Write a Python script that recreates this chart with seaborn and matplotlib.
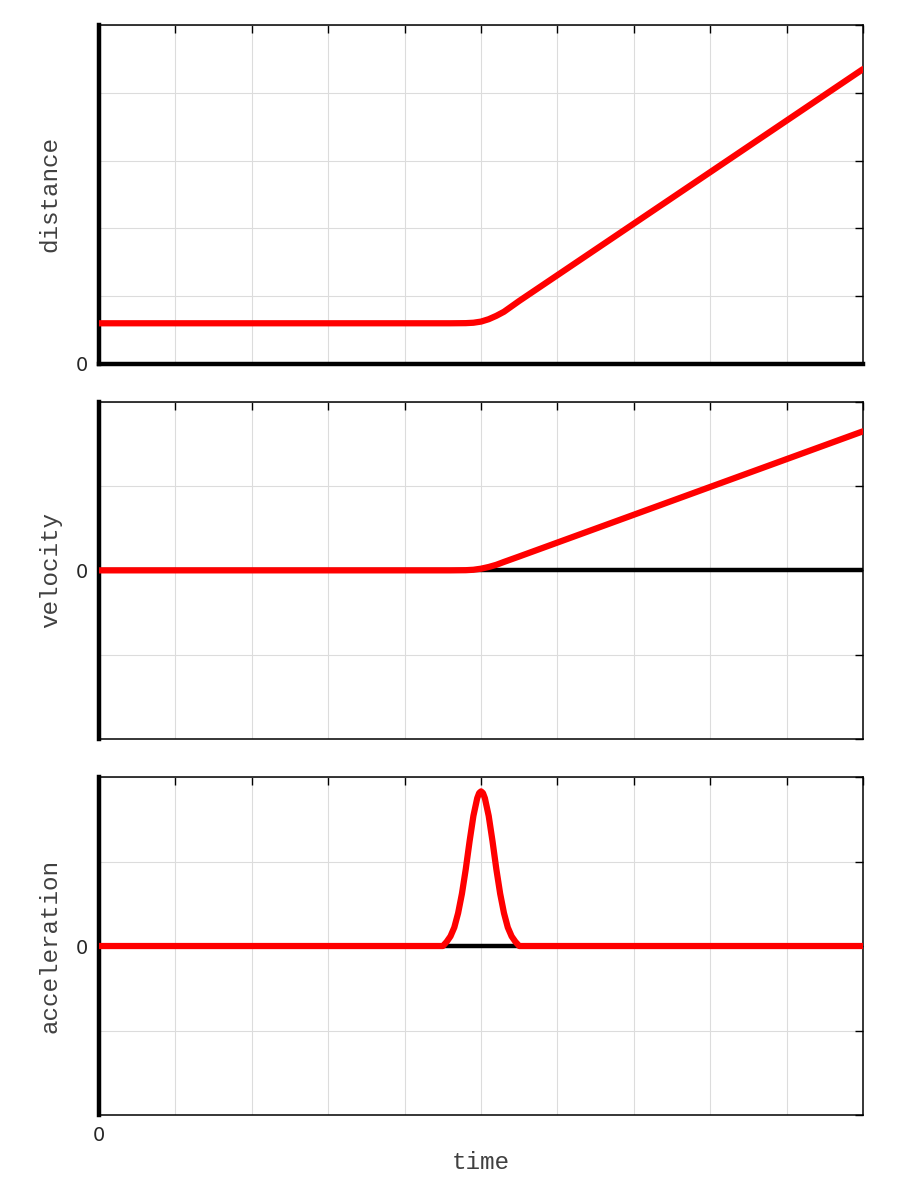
import numpy as np
import pandas as pd
import seaborn as sns
import matplotlib
matplotlib.use("Agg")
import matplotlib.pyplot as plt

# values (time in grid units 0..10)
dist_time = [0, 4.6, 4.8, 4.9, 5.0, 5.1, 5.2, 5.3, 5.5, 10]
distance = [0.6, 0.6, 0.602, 0.608, 0.625, 0.66, 0.71, 0.77, 0.93, 4.35]

vel_time = [0, 4.6, 4.8, 4.9, 5.0, 5.1, 5.2, 5.3, 5.5, 10]
velocity = [0, 0, 0.002, 0.007, 0.02, 0.04, 0.066, 0.1, 0.165, 1.65]

acc_time = [0, 4.5, 4.55, 4.6, 4.65, 4.7, 4.75, 4.8, 4.85, 4.9, 4.95, 4.975, 5.0,
            5.025, 5.05, 5.1, 5.15, 5.2, 5.25, 5.3, 5.35, 5.4, 5.45, 5.5, 10]
acceleration = [0, 0, 0.05, 0.115, 0.22, 0.39, 0.62, 0.91, 1.24, 1.54, 1.75, 1.81, 1.83,
                1.81, 1.75, 1.54, 1.24, 0.91, 0.62, 0.39, 0.22, 0.115, 0.05, 0, 0]

panel_labels = ["distance", "velocity", "acceleration"]
y_limits = [(0, 5), (-2, 2), (-2, 2)]

sns.set_style("whitegrid")
plt.rcParams["font.family"] = ["DejaVu Sans"]

fig = plt.figure(figsize=(9, 12), dpi=100)
left, width = 0.11, 0.849
boxes = [(0.6967, 0.2825), (0.3842, 0.2810), (0.0708, 0.2817)]

series = [(dist_time, distance), (vel_time, velocity), (acc_time, acceleration)]
tick_font = dict(family="DejaVu Sans", fontsize=14, color="#262626")

for i, ((bottom, height), (t, vals), name, ylim) in enumerate(zip(boxes, series, panel_labels, y_limits)):
    ax = fig.add_axes([left, bottom, width, height])
    df = pd.DataFrame({"time": t, "value": vals})

    if i > 0:
        ax.axhline(0, color="black", lw=3.2, zorder=2)
    sns.lineplot(data=df, x="time", y="value", ax=ax, color="red", lw=4.5, zorder=3)

    ax.set_xlim(0, 10)
    ax.set_ylim(*ylim)
    ax.tick_params(direction="in", length=6, width=1, top=True, right=True,
                   color="black", pad=8)
    ax.set_xticks(range(0, 11))
    ax.set_xticklabels(["0"] + [""] * 10 if i == 2 else [""] * 11, **tick_font)
    yt = list(range(ylim[0], ylim[1] + 1))
    ax.set_yticks(yt)
    ax.set_yticklabels(["0" if v == 0 else "" for v in yt], **tick_font)

    ax.grid(True, color="#dcdcdc", lw=0.8)

    for s in ["top", "right", "bottom"]:
        ax.spines[s].set_color("black")
        ax.spines[s].set_linewidth(1.1)
    ax.spines["left"].set_color("black")
    ax.spines["left"].set_linewidth(3.2)
    if i == 0:
        ax.spines["bottom"].set_linewidth(3.2)

    ax.set_ylabel(name, family="Liberation Mono", fontsize=17.5, color="#404040", labelpad=10)
    if i == 2:
        ax.set_xlabel("time", family="Liberation Mono", fontsize=17.5, color="#404040", labelpad=4)
    else:
        ax.set_xlabel("")

fig.savefig("out.png", dpi=100)
